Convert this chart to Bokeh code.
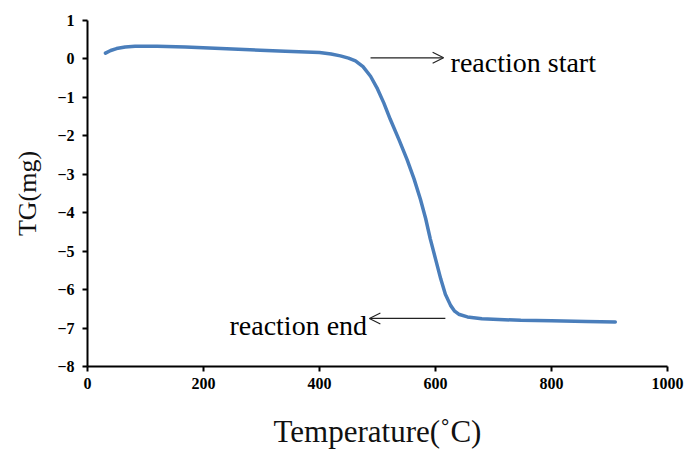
from bokeh.plotting import figure
from bokeh.models import Range1d, FixedTicker, Label, Arrow, OpenHead, ColumnDataSource
from bokeh.embed import file_html
from bokeh.resources import INLINE

# Data
temperature = [31, 40, 50, 65, 82, 120, 169, 250, 341, 400, 420, 436, 450, 462, 475, 488, 500,
               511, 522, 537, 551, 563, 574, 583, 591, 600, 609, 617, 626, 633, 640, 655, 680,
               747, 800, 860, 910]
tg_mg = [0.15, 0.22, 0.27, 0.31, 0.33, 0.33, 0.31, 0.26, 0.20, 0.17, 0.13, 0.08, 0.02, -0.05, -0.2,
         -0.45, -0.78, -1.15, -1.57, -2.1, -2.62, -3.12, -3.65, -4.15, -4.68, -5.2, -5.72, -6.12,
         -6.41, -6.56, -6.64, -6.71, -6.76, -6.80, -6.81, -6.83, -6.84]

x_ticks = [0, 200, 400, 600, 800, 1000]
y_ticks = [1, 0, -1, -2, -3, -4, -5, -6, -7, -8]

start_label = "reaction start"
end_label = "reaction end"

SERIF = "Liberation Serif"

p = figure(width=684, height=451, output_backend="svg", toolbar_location=None,
           x_range=Range1d(0, 1000), y_range=Range1d(-8, 1),
           min_border_left=87, min_border_right=17, min_border_top=20, min_border_bottom=83)
p.outline_line_color = None
p.xgrid.visible = False
p.ygrid.visible = False
p.background_fill_color = "white"
p.border_fill_color = "white"

src = ColumnDataSource(dict(t=temperature, tg=tg_mg))
p.line("t", "tg", source=src, line_color="#4a7ebb", line_width=3.5,
       line_cap="round", line_join="round")

for ax in (p.xaxis[0], p.yaxis[0]):
    ax.axis_line_color = "black"
    ax.axis_line_width = 2
    ax.major_tick_line_color = "black"
    ax.major_tick_line_width = 2
    ax.major_tick_in = 0
    ax.minor_tick_line_color = None
    ax.major_label_text_font = SERIF
    ax.major_label_text_font_style = "bold"
    ax.major_label_text_font_size = "16px"
    ax.major_label_text_color = "black"
    ax.axis_label_text_font = SERIF
    ax.axis_label_text_font_style = "normal"
    ax.axis_label_text_color = "#111111"

p.xaxis[0].ticker = FixedTicker(ticks=x_ticks)
p.yaxis[0].ticker = FixedTicker(ticks=y_ticks)
p.xaxis[0].major_tick_out = 5
p.yaxis[0].major_tick_out = 5
p.xaxis[0].major_label_standoff = 6
p.yaxis[0].major_label_standoff = 8
p.xaxis[0].axis_label = "Temperature(˚C)"
p.xaxis[0].axis_label_text_font_size = "31px"
p.xaxis[0].axis_label_standoff = 22
p.yaxis[0].axis_label = "TG(mg)"
p.yaxis[0].axis_label_text_font_size = "26px"
p.yaxis[0].axis_label_standoff = 12

# Annotations
p.add_layout(Arrow(end=OpenHead(size=11, line_width=1.2, line_color="#222222"),
                   x_start=488, y_start=0.03, x_end=614, y_end=0.03,
                   line_color="#222222", line_width=1.2))
p.add_layout(Label(x=626, y=-0.09, text=start_label, text_font=SERIF,
                   text_font_size="28px", text_color="black", text_baseline="alphabetic"))
p.add_layout(Arrow(end=OpenHead(size=11, line_width=1.2, line_color="#222222"),
                   x_start=617, y_start=-6.75, x_end=486, y_end=-6.75,
                   line_color="#222222", line_width=1.2))
p.add_layout(Label(x=482, y=-6.94, text=end_label, text_font=SERIF, text_align="right",
                   text_font_size="28px", text_color="black", text_baseline="alphabetic"))

open("out.html", "w").write(file_html(p, INLINE))
